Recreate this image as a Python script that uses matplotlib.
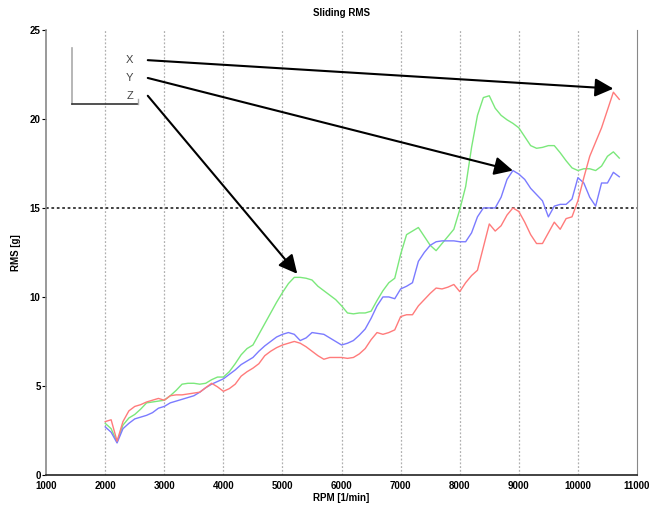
import numpy as np
import matplotlib
matplotlib.use("Agg")
import matplotlib.pyplot as plt

plt.rcParams['font.family'] = ['Liberation Sans', 'DejaVu Sans']

# engine speed grid [1/min]
rpm = np.arange(2000, 10800, 100)

rms_x = [3.0, 3.1, 1.9, 3.0, 3.6, 3.85, 3.95, 4.1, 4.2, 4.3,
         4.2, 4.45, 4.5, 4.5, 4.55, 4.6, 4.65, 4.9, 5.15, 4.95,
         4.7, 4.85, 5.1, 5.55, 5.8, 6.0, 6.25, 6.7, 6.95, 7.15,
         7.3, 7.4, 7.5, 7.4, 7.2, 6.95, 6.7, 6.5, 6.6, 6.6,
         6.6, 6.55, 6.6, 6.8, 7.1, 7.6, 8.0, 7.9, 8.0, 8.15,
         8.9, 9.0, 9.0, 9.5, 9.85, 10.2, 10.5, 10.45, 10.55, 10.7,
         10.3, 10.8, 11.2, 11.5, 12.8, 14.1, 13.7, 14.0, 14.6, 15.0,
         14.8, 14.2, 13.5, 13.0, 13.0, 13.6, 14.2, 13.8, 14.4, 14.5,
         15.4, 16.7, 17.9, 18.7, 19.5, 20.5, 21.5, 21.1]

rms_y = [2.7, 2.4, 1.8, 2.6, 2.9, 3.15, 3.25, 3.35, 3.5, 3.75,
         3.85, 4.05, 4.15, 4.25, 4.35, 4.45, 4.65, 4.9, 5.1, 5.25,
         5.4, 5.65, 5.9, 6.2, 6.4, 6.6, 6.95, 7.25, 7.5, 7.75,
         7.9, 8.0, 7.9, 7.55, 7.7, 8.0, 7.95, 7.9, 7.7, 7.5,
         7.3, 7.4, 7.55, 7.85, 8.2, 8.8, 9.5, 10.0, 10.0, 9.9,
         10.45, 10.6, 10.8, 12.0, 12.5, 12.9, 13.1, 13.15, 13.15, 13.15,
         13.1, 13.1, 13.6, 14.5, 15.0, 15.0, 15.0, 15.6, 16.6, 17.1,
         16.9, 16.6, 16.1, 15.75, 15.4, 14.5, 15.1, 15.2, 15.2, 15.5,
         16.7, 16.4, 15.6, 15.1, 16.4, 16.4, 17.0, 16.75]

rms_z = [2.9, 2.6, 1.85, 2.8, 3.2, 3.4, 3.7, 4.05, 4.1, 4.15,
         4.2, 4.45, 4.75, 5.1, 5.15, 5.15, 5.1, 5.15, 5.35, 5.5,
         5.5, 5.8, 6.25, 6.75, 7.1, 7.3, 7.9, 8.5, 9.1, 9.7,
         10.25, 10.75, 11.1, 11.1, 11.05, 10.95, 10.6, 10.35, 10.1, 9.85,
         9.5, 9.1, 9.05, 9.1, 9.1, 9.2, 9.8, 10.35, 10.8, 11.05,
         12.4, 13.5, 13.7, 13.9, 13.4, 12.9, 12.6, 13.0, 13.4, 13.8,
         14.9, 16.2, 18.4, 20.2, 21.2, 21.3, 20.6, 20.2, 19.95, 19.75,
         19.5, 19.0, 18.5, 18.35, 18.4, 18.5, 18.5, 18.1, 17.65, 17.25,
         17.1, 17.2, 17.2, 17.1, 17.35, 17.9, 18.15, 17.8]

labels = ['X', 'Y', 'Z']
colors = ['#ff7b7b', '#7b7bff', '#7be87b']
limit = 15

fig = plt.figure(figsize=(6.5, 5.11), dpi=100)
ax = fig.add_axes([0.071, 0.0705, 0.909, 0.871])

# z first so red/blue sit on top
ax.plot(rpm, rms_z, color=colors[2], lw=1.0)
ax.plot(rpm, rms_y, color=colors[1], lw=1.0)
ax.plot(rpm, rms_x, color=colors[0], lw=1.0)

ax.set_xlim(1000, 11000)
ax.set_ylim(0, 25)
ax.set_xticks(np.arange(1000, 11001, 1000))
ax.set_yticks(np.arange(0, 26, 5))
for t in np.arange(2000, 11000, 1000):
    ax.axvline(t, color='#b0b0b0', ls=(0, (1.5, 1.5)), lw=0.9, zorder=0)
ax.axhline(limit, color='#333333', ls=(0, (1.5, 1.5)), lw=1.3, zorder=0)

ax.spines['top'].set_visible(False)
ax.spines['left'].set_color('#888888')
ax.spines['right'].set_color('#888888')
ax.spines['bottom'].set_color('#222222')
ax.spines['left'].set_linewidth(1.2)
ax.spines['bottom'].set_linewidth(1.2)
ax.tick_params(axis='both', length=3, width=0.8, labelsize=7, pad=1)
ax.tick_params(axis='x', length=0, pad=4)
for lab in ax.get_xticklabels() + ax.get_yticklabels():
    lab.set_fontweight('bold')

ax.set_title('Sliding RMS', fontsize=7, fontweight='bold', pad=10)
ax.set_xlabel('RPM [1/min]', fontsize=7, fontweight='bold', labelpad=2)
ax.set_ylabel('RMS [g]', fontsize=7, fontweight='bold', labelpad=6)

# hand-drawn legend box (left and bottom edges only)
ax.plot([1440, 1440], [20.85, 24.0], color='#aaaaaa', lw=1.2, clip_on=False)
ax.plot([1440, 2560], [20.85, 20.85], color='#333333', lw=1.2, clip_on=False)
ax.plot([2560, 2560], [20.85, 21.1], color='#aaaaaa', lw=1.0, clip_on=False)
label_y = [23.3, 22.3, 21.3]
for lab, ly in zip(labels, label_y):
    ax.text(2480, ly, lab, ha='right', va='center', fontsize=8, color='#444444')

# arrows from legend entries to characteristic points of each curve
rpm_arr = np.asarray(rpm)
ix = int(np.argmax(rms_x))
iy = int(np.argmax(rms_y))
iz = int(np.argmax(np.where(rpm_arr < 7000, rms_z, 0)))
targets = [(rpm_arr[ix], rms_x[ix] + 0.2),
           (rpm_arr[iy], rms_y[iy]),
           (rpm_arr[iz] + 50, rms_z[iz] + 0.2)]
for ly, tgt in zip(label_y, targets):
    ax.annotate('', xy=tgt, xytext=(2720, ly),
                arrowprops=dict(arrowstyle='-|>', color='black', lw=1.5,
                                mutation_scale=28, shrinkA=0, shrinkB=0))

fig.savefig('out.png', dpi=100)
